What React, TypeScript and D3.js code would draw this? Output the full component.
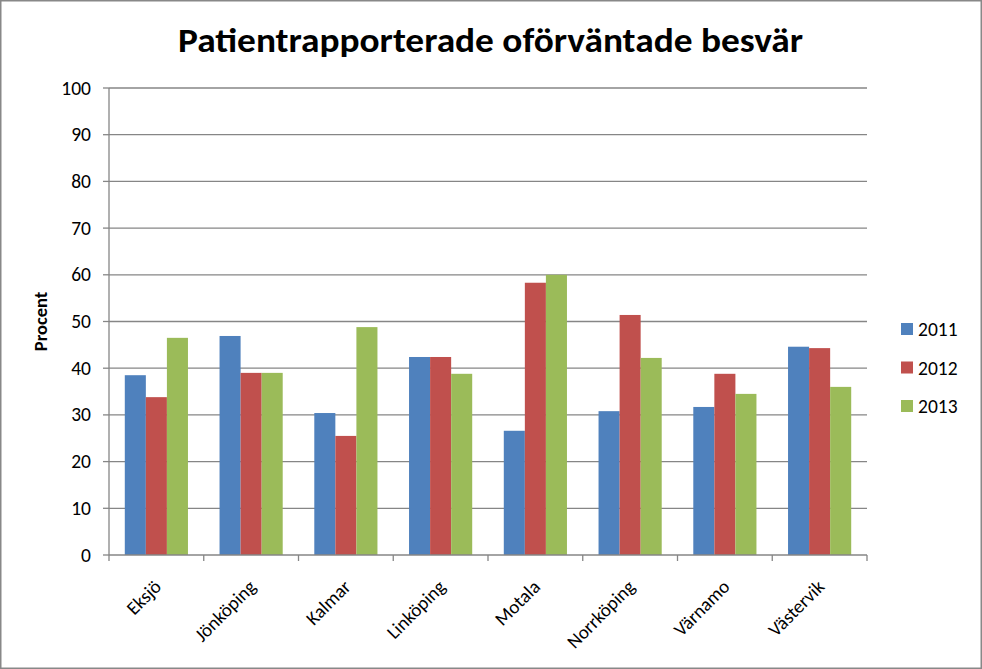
import React from "react";
import * as d3 from "d3";

const categories = ["Eksjö", "Jönköping", "Kalmar", "Linköping", "Motala", "Norrköping", "Värnamo", "Västervik"];
const years = ["2011", "2012", "2013"];
const values2011 = [38.5, 46.9, 30.4, 42.4, 26.6, 30.8, 31.7, 44.6];
const values2012 = [33.8, 39.0, 25.5, 42.4, 58.3, 51.4, 38.8, 44.3];
const values2013 = [46.5, 39.0, 48.8, 38.8, 60.0, 42.2, 34.5, 36.0];
const yTicks = [0, 10, 20, 30, 40, 50, 60, 70, 80, 90, 100];
const colors = ["#4F81BD", "#C0504D", "#9BBB59"];

const W = 982, H = 669;
const left = 109, right = 867, top = 88, bottom = 555;
const font = "Carlito, Calibri, 'Liberation Sans', Arial, sans-serif";

export default function App() {
  const series = [values2011, values2012, values2013];
  const x = d3.scaleBand<string>().domain(categories).range([left, right]).paddingInner(1.5 / 4.5).paddingOuter(0.75 / 4.5);
  const x0 = d3.scaleBand<string>().domain(categories).range([left, right]);
  const xs = d3.scaleBand<string>().domain(years).range([0, x.bandwidth()]);
  const y = d3.scaleLinear().domain([0, 100]).range([bottom, top]);
  const grid = "#868686";
  return (
    <svg width={W} height={H} style={{ position: "absolute", left: 0, top: 0 }}>
      <rect x={0.75} y={0.75} width={W - 1.5} height={H - 1.5} fill="#fff" stroke="#888" strokeWidth={1.5} />
      <text x={490.5} y={52} textAnchor="middle" fontFamily={font} fontWeight="bold" fontSize={34}
        textLength={625} lengthAdjust="spacingAndGlyphs" fill="#000">Patientrapporterade oförväntade besvär</text>
      {yTicks.map((t) => (
        <g key={t}>
          {t > 0 && <line x1={left} x2={right} y1={y(t)} y2={y(t)} stroke={grid} strokeWidth={1.3} />}
          <line x1={left - 6} x2={left} y1={y(t)} y2={y(t)} stroke={grid} strokeWidth={1.3} />
          <text x={left - 18} y={y(t) + 6.5} textAnchor="end" fontFamily={font} fontSize={19.5} fill="#000">{t}</text>
        </g>
      ))}
      {categories.map((c, i) => (
        <g key={c}>
          {series.map((s, j) => (
            <rect key={j} x={(x(c) ?? 0) + (xs(years[j]) ?? 0)} y={y(s[i])} width={xs.bandwidth()}
              height={bottom - y(s[i])} fill={colors[j]} />
          ))}
        </g>
      ))}
      <line x1={left} x2={left} y1={top} y2={bottom} stroke={grid} strokeWidth={1.3} />
      <line x1={left} x2={right} y1={bottom} y2={bottom} stroke={grid} strokeWidth={1.3} />
      {[...categories.map((c) => x0(c) ?? 0), right].map((px, i) => (
        <line key={i} x1={px} x2={px} y1={bottom} y2={bottom + 6} stroke={grid} strokeWidth={1.3} />
      ))}
      {categories.map((c) => {
        const cx = (x0(c) ?? 0) + x0.bandwidth() / 2 + 6;
        const cy = bottom + 33;
        return (
          <text key={c} transform={`translate(${cx},${cy}) rotate(-45)`} textAnchor="end" fontFamily={font}
            fontSize={19} fill="#000">{c}</text>
        );
      })}
      <text transform={`translate(47,${(top + bottom) / 2}) rotate(-90)`} textAnchor="middle" fontFamily={font}
        fontWeight="bold" fontSize={18.5} fill="#000">Procent</text>
      {years.map((yr, j) => (
        <g key={yr}>
          <rect x={901} y={323 + j * 38.5} width={12} height={12} fill={colors[j]} />
          <text x={918} y={336 + j * 38.5} fontFamily={font} fontSize={19.5} fill="#000">{yr}</text>
        </g>
      ))}
    </svg>
  );
}
